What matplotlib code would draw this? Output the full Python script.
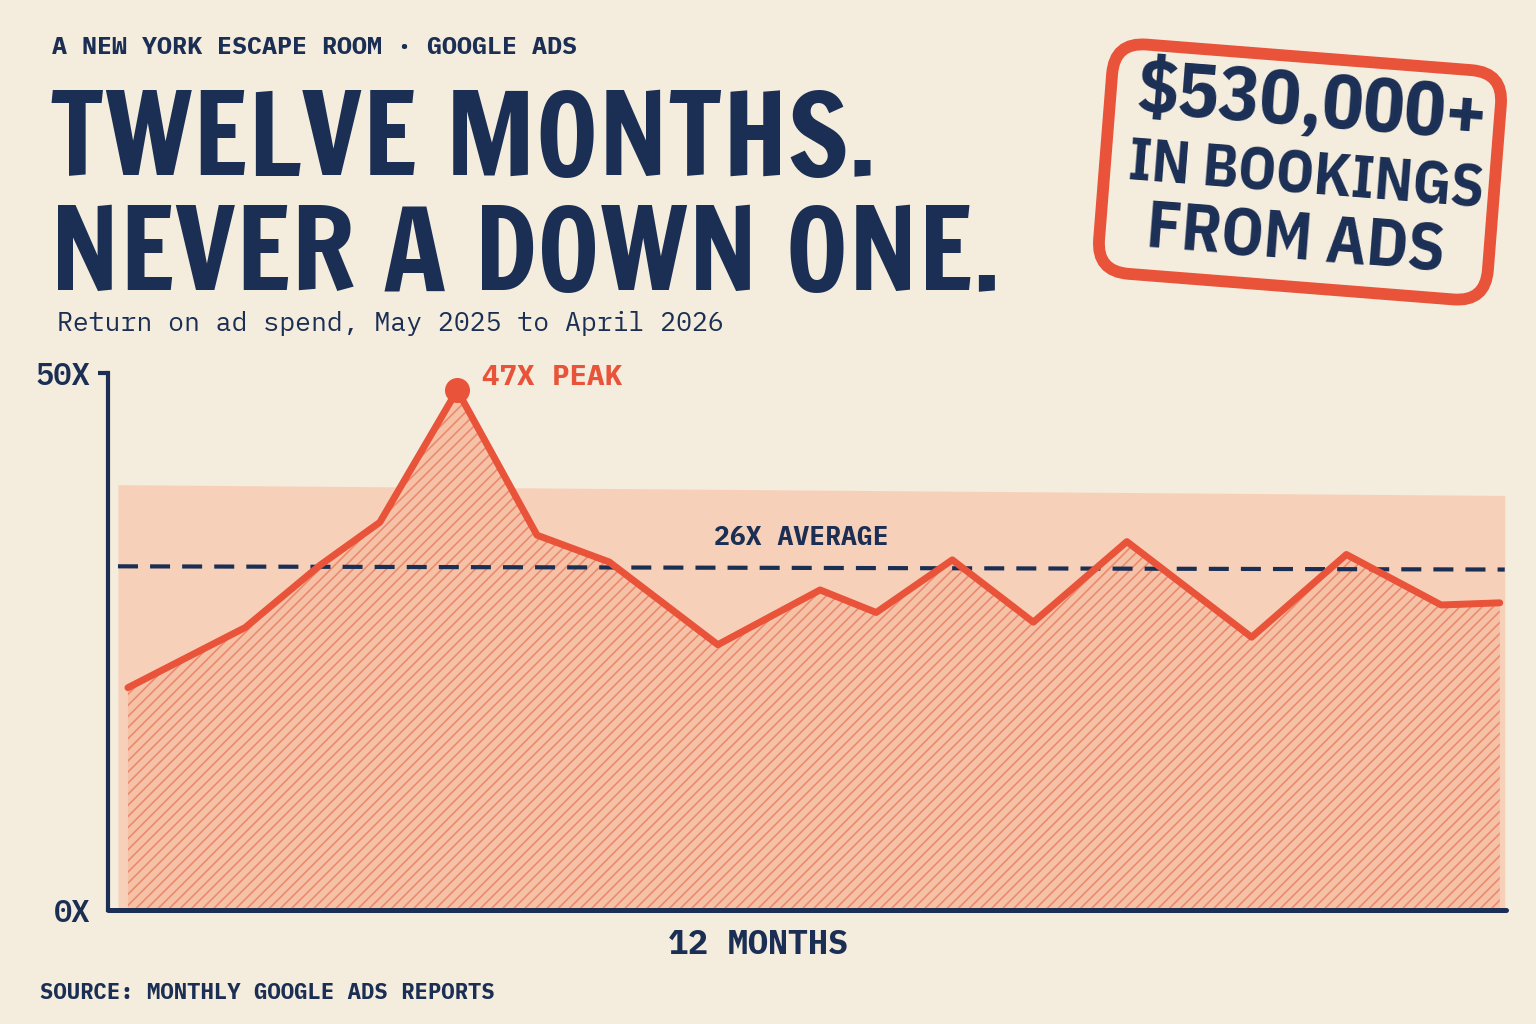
import matplotlib
matplotlib.use("Agg")
import matplotlib.pyplot as plt
from matplotlib import font_manager
from matplotlib.font_manager import FontProperties
from matplotlib.patches import FancyBboxPatch
from matplotlib.textpath import TextPath
from matplotlib.transforms import Affine2D

# ROAS by point along the 12 months
months = [0.0, 0.94, 1.54, 2.02, 2.64, 3.28, 3.86, 4.73, 5.55, 6.00,
          6.61, 7.26, 8.01, 9.01, 9.77, 10.53, 11.0]
roas = [20.7, 26.3, 32.1, 36.1, 48.4, 34.9, 32.4, 24.7, 29.8, 27.7,
        32.6, 26.8, 34.3, 25.4, 33.1, 28.4, 28.6]
band_x = [-0.08, 11.04]
band_top = [39.6, 38.6]
avg_level = 32.0
y_ticks = [0, 50]
y_labels = ["0X", "50X"]

NAVY = "#1b2f55"
ORANGE = "#e8533a"
PAPER = "#f4ecdc"

names = {f.name for f in font_manager.fontManager.ttflist}


def pick(*opts):
    for o in opts:
        if o in names:
            return o
    return "DejaVu Sans"


HEAD = pick("Francois One", "Anton", "Fjalla One", "Oswald")
STAMP = pick("IBM Plex Sans Condensed", "Roboto Condensed", "DejaVu Sans")
MONO = pick("IBM Plex Mono", "DejaVu Sans Mono")


def fit_size(text, family, width_px, cap_px, weight="bold", limit=1.03):
    # compromise size between matching the width and the cap height
    fp = FontProperties(family=family, weight=weight)
    w = TextPath((0, 0), text, size=100, prop=fp).get_extents().width
    c = TextPath((0, 0), "H", size=100, prop=fp).get_extents().height
    s_w = width_px / (w / 100 * 100 / 72)
    s_h = cap_px / (c / 100 * 100 / 72)
    s = (s_w * s_h) ** 0.5
    return min(s, s_h * limit)


plt.rcParams["hatch.linewidth"] = 1.2

fig = plt.figure(figsize=(15.36, 10.24), dpi=100)
fig.patch.set_facecolor(PAPER)

ax = fig.add_axes([108 / 1536, 1 - 910 / 1024, (1506 - 108) / 1536, (910 - 373) / 1024])
ax.set_facecolor("none")
ax.set_xlim(-0.16, 11.05)
ax.set_ylim(0, 50)

# reference band and the area under the line
ax.fill_between(band_x, 0, band_top, color="#f7d0b9", lw=0, zorder=1)
ax.fill_between(months, 0, roas, facecolor="#f5c2a8", edgecolor="#ec8a6d",
                hatch="///", lw=0, zorder=2)

ax.plot([band_x[0], band_x[1]], [avg_level, avg_level - 0.3], color=NAVY, lw=3,
        dashes=(4.8, 2.9), zorder=3)
ax.plot(months, roas, color=ORANGE, lw=5, solid_joinstyle="round",
        solid_capstyle="round", zorder=4)
peak = roas.index(max(roas))
ax.plot(months[peak], roas[peak], "o", ms=17, color=ORANGE, zorder=5, clip_on=False)

ax.text(months[peak] + 0.2, roas[peak] + 1.2, "47X PEAK", color=ORANGE,
        fontsize=21, fontweight="bold", family=MONO, va="center", ha="left")
ax.text(5.4, avg_level + 2.7, "26X AVERAGE", color=NAVY, fontsize=19,
        fontweight="bold", family=MONO, va="center", ha="center", zorder=5)

for side in ["top", "right"]:
    ax.spines[side].set_visible(False)
ax.spines["left"].set_color(NAVY)
ax.spines["left"].set_linewidth(3)
ax.spines["bottom"].set_color(NAVY)
ax.spines["bottom"].set_linewidth(3.6)
ax.spines["bottom"].set_capstyle("round")
ax.set_xticks([])
ax.set_yticks(y_ticks, y_labels)
ax.tick_params(axis="y", length=7, width=3, color=NAVY, pad=6,
               labelsize=22, labelcolor=NAVY)
for lab in ax.get_yticklabels():
    lab.set_family(MONO)
    lab.set_fontweight("semibold")
ax.yaxis.get_major_ticks()[0].tick1line.set_visible(False)

# titles
fig.text(52 / 1536, 1 - 47 / 1024, "A NEW YORK ESCAPE ROOM \u00b7 GOOGLE ADS",
         family=MONO, fontweight="bold", fontsize=18, color=NAVY, va="center")
head_size = fit_size("TWELVE MONTHS.", HEAD, 812, 87, limit=1.06)
fig.text(50 / 1536, 1 - 176 / 1024, "TWELVE MONTHS.", family=HEAD,
         fontweight="bold", fontsize=head_size, color=NAVY, va="baseline")
fig.text(50 / 1536, 1 - 291 / 1024, "NEVER A DOWN ONE.", family=HEAD,
         fontweight="bold", fontsize=head_size, color=NAVY, va="baseline")
fig.text(57 / 1536, 1 - 323 / 1024, "Return on ad spend, May 2025 to April 2026",
         family=MONO, fontsize=19, color=NAVY, va="center")
fig.text(758 / 1536, 1 - 945 / 1024, "12 MONTHS", family=MONO, fontweight="bold",
         fontsize=24, color=NAVY, va="center", ha="center")
fig.text(40 / 1536, 1 - 993 / 1024, "SOURCE: MONTHLY GOOGLE ADS REPORTS",
         family=MONO, fontweight="bold", fontsize=16, color=NAVY, va="center")

# stamp box (inches, rotated)
cx, cy, w, h = 13.0, 8.52, 3.9, 2.3
rot = Affine2D().rotate_deg_around(cx, cy, -4.5) + fig.dpi_scale_trans
stamp = FancyBboxPatch((cx - w / 2, cy - h / 2), w, h,
                       boxstyle="round,pad=0,rounding_size=0.32",
                       fill=False, edgecolor=ORANGE, lw=8.5, transform=rot)
fig.patches.append(stamp)

stamp_lines = [("$530,000+", 1312, 105, 335, 55), ("IN BOOKINGS", 1306, 178, 330, 44),
               ("FROM ADS", 1295, 240, 286, 47)]
for txt, x, y, tw, tc in stamp_lines:
    fig.text(x / 1536, 1 - y / 1024, txt, family=STAMP, fontweight="bold",
             fontsize=fit_size(txt, STAMP, tw, tc, limit=1.1), color=NAVY,
             ha="center", va="center", rotation=-4.5, rotation_mode="anchor")

fig.savefig("out.png", dpi=100, facecolor=PAPER)
